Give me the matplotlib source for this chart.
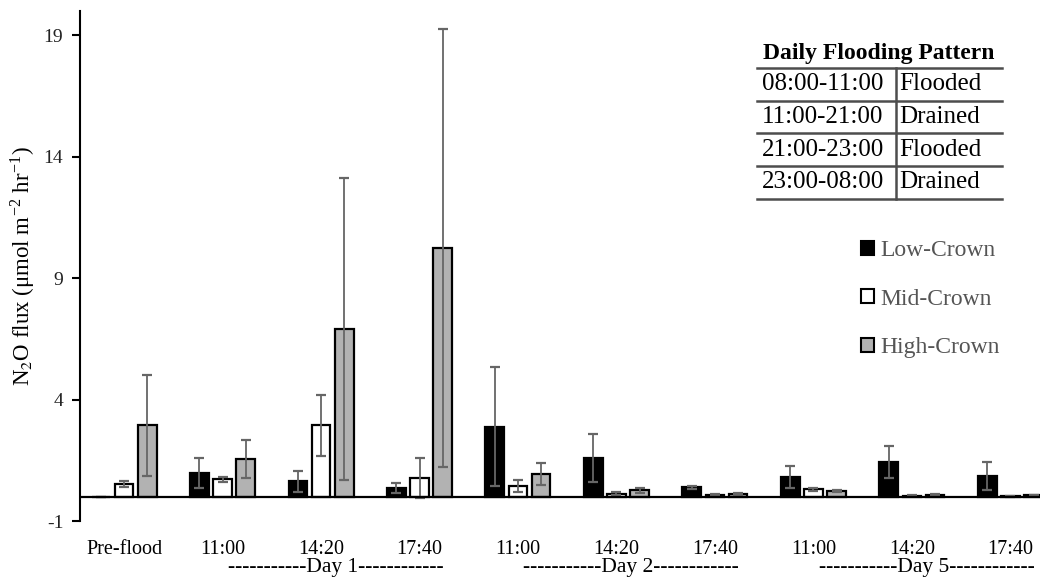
import matplotlib
matplotlib.use("Agg")
import matplotlib.pyplot as plt
import numpy as np
from matplotlib.patches import Patch
from matplotlib.lines import Line2D
import matplotlib.transforms as mtransforms

plt.rcParams['font.family'] = ['Liberation Serif', 'DejaVu Serif']
plt.rcParams['mathtext.fontset'] = 'stix'

categories = ["Pre-flood", "11:00", "14:20", "17:40", "11:00", "14:20", "17:40", "11:00", "14:20", "17:40"]
low = [-0.03, 0.97, 0.64, 0.36, 2.88, 1.59, 0.38, 0.82, 1.44, 0.84]
low_err = [0.0, 0.63, 0.43, 0.20, 2.45, 0.97, 0.05, 0.45, 0.65, 0.58]
mid = [0.52, 0.71, 2.94, 0.77, 0.45, 0.12, 0.07, 0.30, 0.03, 0.02]
mid_err = [0.12, 0.12, 1.25, 0.83, 0.24, 0.06, 0.03, 0.06, 0.02, 0.02]
high = [2.94, 1.55, 6.90, 10.23, 0.95, 0.26, 0.11, 0.22, 0.07, 0.06]
high_err = [2.07, 0.80, 6.20, 9.00, 0.45, 0.10, 0.05, 0.04, 0.03, 0.03]
series_names = ["Low-Crown", "Mid-Crown", "High-Crown"]
day_labels = ["-----------Day 1------------", "-----------Day 2------------", "-----------Day 5------------"]
day_groups = [2, 5, 8]
table_rows = [["08:00-11:00", "Flooded"], ["11:00-21:00", "Drained"],
              ["21:00-23:00", "Flooded"], ["23:00-08:00", "Drained"]]
yticks = [-1, 4, 9, 14, 19]

fig = plt.figure(figsize=(10.63, 5.78), dpi=100)
ax = fig.add_axes([80/1063, 1-521/578, (1040-80)/1063, (521-10.7)/578])

x = np.arange(len(categories))
w = 0.19
off = 0.235
colors = ["#000000", "#ffffff", "#b2b2b2"]
ekw = dict(ecolor="#666666", elinewidth=1.3, capsize=3.5, capthick=1.6)
for vals, errs, c, dx, name in zip([low, mid, high], [low_err, mid_err, high_err], colors,
                                   [-off, 0, off], series_names):
    ax.bar(x + dx, vals, width=w, color=c, edgecolor="black", linewidth=1.6,
           yerr=errs, error_kw=ekw, label=name, zorder=2)

ax.axhline(0, color="black", linewidth=1.6, zorder=3)
ax.set_xlim(-0.447, 9.3)
ax.set_ylim(-1, 20)
ax.set_yticks(yticks)
ax.set_yticklabels([str(t) for t in yticks], fontsize=14, color="#222222")
ax.set_xticks(x)
ax.set_xticklabels(categories, fontsize=14.5)
ax.tick_params(axis='x', length=0, pad=14)
ax.tick_params(axis='y', direction='out', length=6, width=1.5, pad=6)
for s in ["top", "right", "bottom"]:
    ax.spines[s].set_visible(False)
ax.spines["left"].set_linewidth(1.5)
ax.spines["left"].set_bounds(-1, 20)

ax.set_ylabel("N$_2$O flux (μmol m$^{\\mathregular{-2}}$ hr$^{\\mathregular{-1}}$)", fontsize=16.5, labelpad=5)

trans = mtransforms.blended_transform_factory(ax.transData, ax.transAxes)
for g, lab in zip(day_groups, day_labels):
    ax.text(g + 0.15, -0.092, lab, transform=trans, ha="center", va="center", fontsize=15.5)

# Legend
handles = [Patch(facecolor=c, edgecolor="black", linewidth=1.5) for c in colors]
leg = ax.legend(handles, series_names, loc="upper left", bbox_to_anchor=(861/1063, 1-240/578),
                bbox_transform=fig.transFigure, frameon=False, fontsize=17,
                handlelength=0.55, handleheight=0.55, handletextpad=0.25, labelspacing=1.17,
                borderaxespad=0, borderpad=0)
for t in leg.get_texts():
    t.set_color("#555555")

# Table
def fx(px):
    return px / 1063
def fy(py):
    return 1 - py / 578

fig.text(fx(879), fy(53), "Daily Flooding Pattern", ha="center", va="center",
         fontsize=17, fontweight="bold")
line_ys = [68, 101, 133, 166, 199]
for ly in line_ys:
    fig.add_artist(Line2D([fx(757), fx(1002)], [fy(ly), fy(ly)], color="#4d4d4d", linewidth=1.8))
fig.add_artist(Line2D([fx(896), fx(896)], [fy(68), fy(199)], color="#4d4d4d", linewidth=1.8))
for i, (a, b) in enumerate(table_rows):
    yc = (line_ys[i] + line_ys[i+1]) / 2
    fig.text(fx(762), fy(yc), a, ha="left", va="center", fontsize=18)
    fig.text(fx(899), fy(yc), b, ha="left", va="center", fontsize=18)

fig.savefig("out.png", dpi=100)
